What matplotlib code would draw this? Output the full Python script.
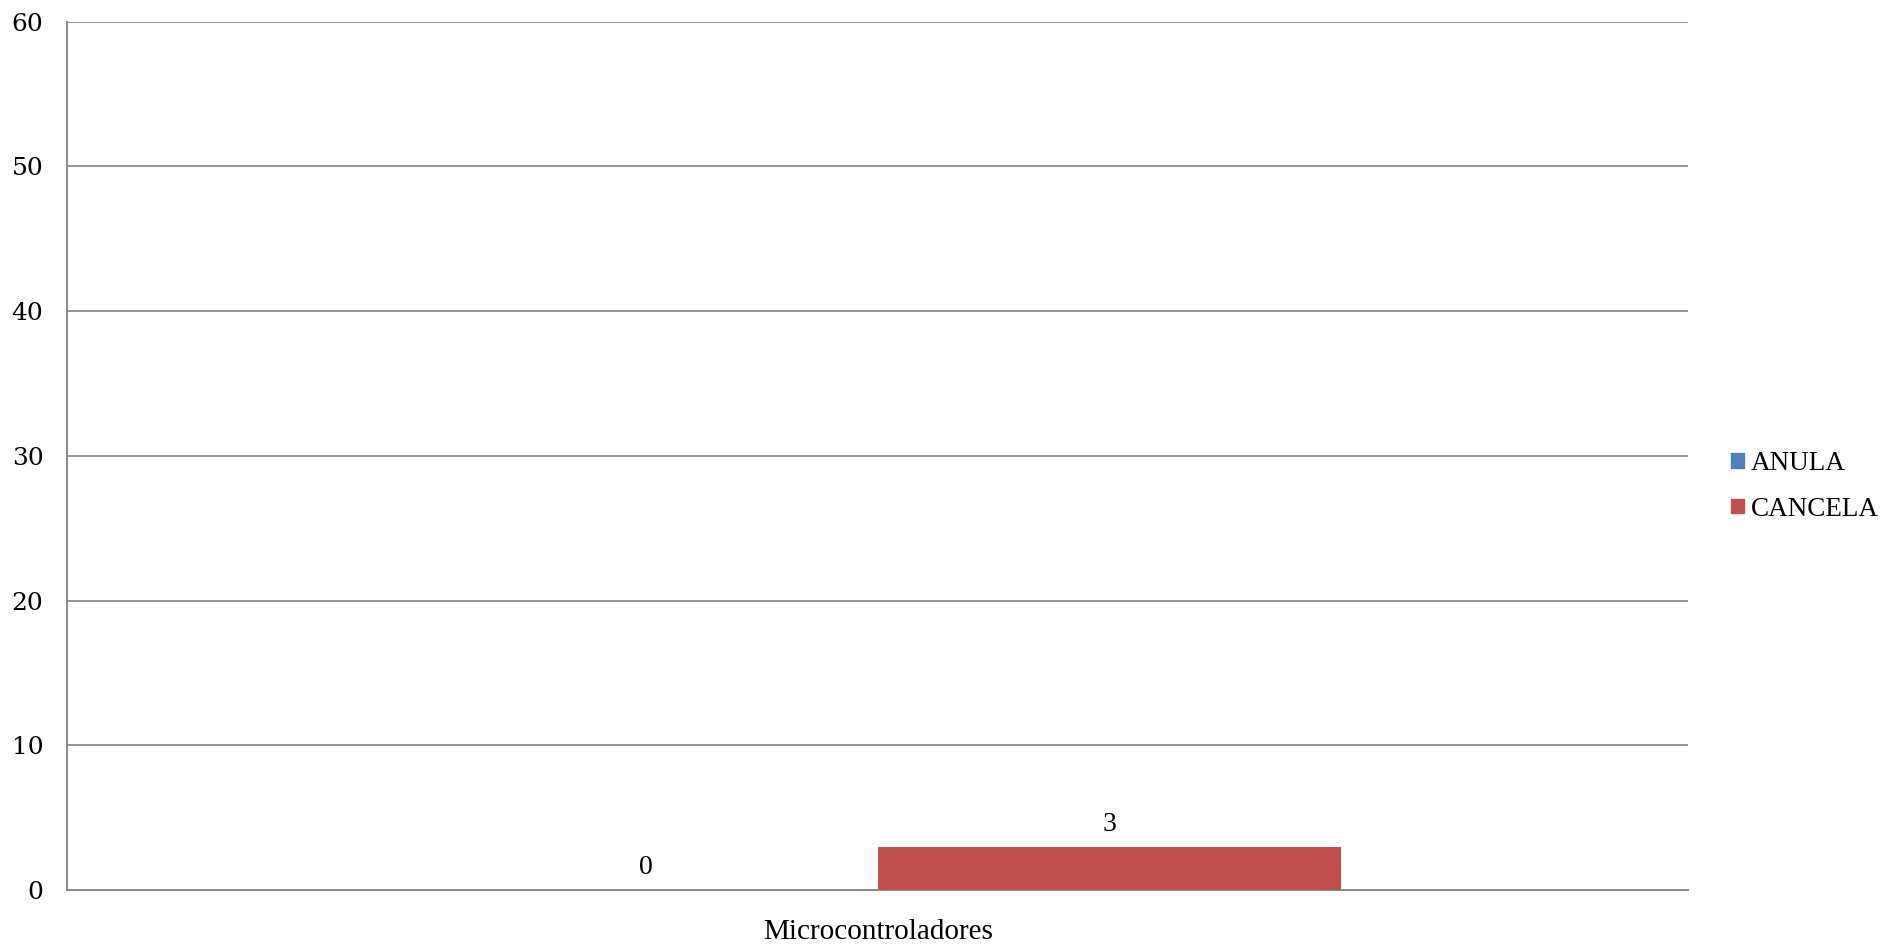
import matplotlib
matplotlib.use("Agg")
import matplotlib.pyplot as plt
from matplotlib.patches import Patch

categorias = ["Microcontroladores"]
series = ["ANULA", "CANCELA"]
anula = [0]
cancela = [3]
colores = ["#4F81BD", "#C0504D"]
y_ticks = [0, 10, 20, 30, 40, 50, 60]


def main() -> None:
    fig = plt.figure(figsize=(18.83, 9.52), dpi=100)
    ax = fig.add_axes([0.0356, 0.0651, 0.8611, 0.9122])

    ancho = 0.2856
    x = list(range(len(categorias)))
    valores = [anula, cancela]
    for i, (nombre, vals) in enumerate(zip(series, valores)):
        pos = [xi + (i - 0.5) * ancho for xi in x]
        barras = ax.bar(pos, vals, width=ancho, color=colores[i], zorder=3)
        for b, v in zip(barras, vals):
            ax.annotate(str(v), (b.get_x() + b.get_width() / 2, b.get_height()),
                        xytext=(0, 7), textcoords="offset points",
                        ha="center", va="bottom", fontsize=20,
                        family="Liberation Serif", color="black")

    ax.set_xlim(-0.5, 0.5)
    ax.set_ylim(0, 60)
    ax.set_yticks(y_ticks)
    ax.set_yticklabels([str(t) for t in y_ticks], family="DejaVu Serif", fontsize=18)
    ax.set_xticks(x)
    ax.set_xticklabels(categorias, family="Liberation Serif", fontsize=21)
    ax.tick_params(axis="y", length=0, pad=17)
    ax.tick_params(axis="x", length=0, pad=21)
    ax.yaxis.grid(True, color="#8c8c8c", linewidth=1.3, zorder=0)
    for lado in ["top", "right"]:
        ax.spines[lado].set_visible(False)
    for lado in ["left", "bottom"]:
        ax.spines[lado].set_color("#8c8c8c")
        ax.spines[lado].set_linewidth(1.5)

    handles = [Patch(color=c) for c in colores]
    fig.legend(handles, series, loc="center left", bbox_to_anchor=(0.9195, 0.489),
               frameon=False, prop={"family": "Liberation Serif", "size": 19.5},
               handlelength=0.45, handleheight=0.45, handletextpad=0.25,
               labelspacing=0.75, borderpad=0, borderaxespad=0)

    fig.savefig("out.png", dpi=100)


if __name__ == "__main__":
    main()
